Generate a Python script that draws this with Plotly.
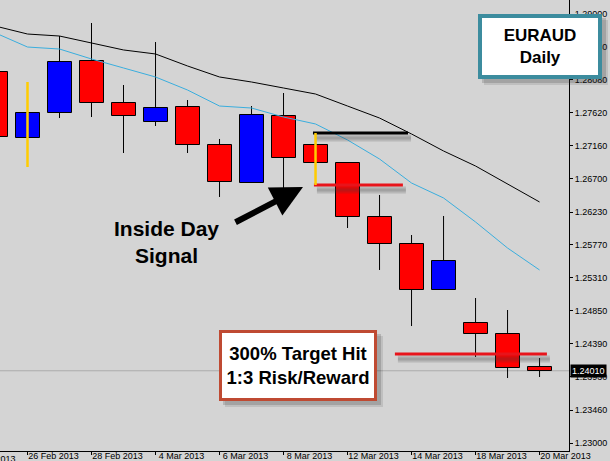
import plotly.graph_objects as go

# ---------------- data ----------------
dates = ["25 Feb 2013", "26 Feb 2013", "27 Feb 2013", "28 Feb 2013", "1 Mar 2013",
         "4 Mar 2013", "5 Mar 2013", "6 Mar 2013", "7 Mar 2013", "8 Mar 2013",
         "11 Mar 2013", "12 Mar 2013", "13 Mar 2013", "14 Mar 2013", "15 Mar 2013",
         "18 Mar 2013", "19 Mar 2013", "20 Mar 2013"]
open_ = [1.28189, 1.27266, 1.27615, 1.28343, 1.27755, 1.27490, 1.27699, 1.27168, 1.26636,
         1.27573, 1.27168, 1.26916, 1.26161, 1.25783, 1.25140, 1.24678, 1.24524, 1.24063]
high = [1.28357, 1.28049, 1.28692, 1.28874, 1.28007, 1.28608, 1.27797, 1.27252, 1.27713,
        1.27895, 1.27336, 1.26916, 1.26469, 1.25909, 1.26175, 1.25028, 1.24860, 1.24189]
low = [1.27238, 1.26860, 1.27545, 1.27559, 1.27056, 1.27434, 1.27056, 1.26441, 1.26636,
       1.26566, 1.26608, 1.26007, 1.25420, 1.24636, 1.25140, 1.24203, 1.23909, 1.23923]
close = [1.27280, 1.27615, 1.28329, 1.27755, 1.27573, 1.27685, 1.27168, 1.26650, 1.27587,
         1.26986, 1.26916, 1.26161, 1.25783, 1.25140, 1.25545, 1.24524, 1.24049, 1.24010]
ma_slow = [1.28846, 1.28720, 1.28692, 1.28594, 1.28497, 1.28441, 1.28273, 1.28119, 1.28049,
           1.27965, 1.27881, 1.27713, 1.27545, 1.27322, 1.27084, 1.26874, 1.26622, 1.26371]
ma_fast = [1.28762, 1.28538, 1.28510, 1.28371, 1.28245, 1.28119, 1.27937, 1.27713, 1.27685,
           1.27559, 1.27462, 1.27238, 1.26972, 1.26636, 1.26427, 1.26091, 1.25727, 1.25420]

x_tick_dates = ["22 Feb 2013", "26 Feb 2013", "28 Feb 2013", "4 Mar 2013", "6 Mar 2013",
                "8 Mar 2013", "12 Mar 2013", "14 Mar 2013", "18 Mar 2013", "20 Mar 2013"]
y_ticks = [1.29000, 1.28540, 1.28080, 1.27620, 1.27160, 1.26700, 1.26230,
           1.25770, 1.25310, 1.24850, 1.24390, 1.23930, 1.23460, 1.23000]
target_level = 1.24245

symbol_text = "EURAUD<br>Daily"
signal_text = "Inside Day<br>Signal"
result_text = "300% Target Hit<br>1:3 Risk/Reward"

# ---------------- layout constants ----------------
W, H = 610, 461
ML, MR, MT, MB = 0, 41, 0, 10
PW, PH = W - ML - MR, H - MT - MB
Y_RANGE = [1.228881, 1.291958]
X_RANGE = [0.1406, 17.92]
PX_Y = PH / (Y_RANGE[1] - Y_RANGE[0])
PX_X = PW / (X_RANGE[1] - X_RANGE[0])
BG = "#D4D4D4"
FONT_AX = "Liberation Sans, Arial, sans-serif"

n = len(dates)
idx = list(range(n))
bull = [c >= o for o, c in zip(open_, close)]

fig = go.Figure()

# wicks (split so they don't cross bodies)
wx, wy = [], []
for i in idx:
    top = max(open_[i], close[i])
    bot = min(open_[i], close[i])
    wx += [i, i, None, i, i, None]
    wy += [top, high[i], None, bot, low[i], None]
fig.add_trace(go.Scatter(x=wx, y=wy, mode="lines", line=dict(color="black", width=1),
                         hoverinfo="skip"))

# bodies
fig.add_trace(go.Bar(
    x=idx,
    y=[max(abs(c - o), 0.00002) for o, c in zip(open_, close)],
    base=[min(o, c) for o, c in zip(open_, close)],
    width=0.75,
    marker=dict(color=["#0000FF" if b else "#FF0000" for b in bull],
                line=dict(color="black", width=1)),
    hoverinfo="skip"))

# moving averages
fig.add_trace(go.Scatter(x=[-1 + 0.86] + idx[1:], y=ma_slow, mode="lines",
                         line=dict(color="black", width=1), hoverinfo="skip"))
fig.add_trace(go.Scatter(x=[-1 + 0.86] + idx[1:], y=ma_fast, mode="lines",
                         line=dict(color="#3AAEDE", width=1), hoverinfo="skip"))

# drawn lines with soft shadows
sig = 10  # inside day bar
lines = [
    (sig - 0.08, sig + 2.89, high[sig], "black"),
    (sig - 0.05, sig + 2.73, low[sig], "#E8141B"),
    (sig + 2.48, sig + 7.23, target_level, "#E8141B"),
]
dy = 5 / PX_Y
dx = 3 / PX_X
for x0, x1, lv, col in lines:
    fig.add_trace(go.Scatter(x=[x0 + dx, x1 + dx], y=[lv - dy, lv - dy], mode="lines",
                             line=dict(color="rgba(60,60,60,0.18)", width=7), hoverinfo="skip"))
    fig.add_trace(go.Scatter(x=[x0 + dx, x1 + dx], y=[lv - dy, lv - dy], mode="lines",
                             line=dict(color="rgba(60,60,60,0.18)", width=3), hoverinfo="skip"))
for x0, x1, lv, col in lines:
    fig.add_trace(go.Scatter(x=[x0, x1], y=[lv, lv], mode="lines",
                             line=dict(color=col, width=3), hoverinfo="skip"))

# yellow range markers
for i in (1, sig):
    fig.add_trace(go.Scatter(x=[i, i], y=[low[i], high[i]], mode="lines",
                             line=dict(color="#FFCC00", width=2.5), hoverinfo="skip"))

shapes = [
    dict(type="line", xref="paper", yref="y", x0=0, x1=1, y0=close[-1], y1=close[-1],
         line=dict(color="#ABABAB", width=1), layer="below"),
]


def px2paper(x, y):
    return (x - ML) / PW, 1 - (y - MT) / PH


# box shadows
for (x0, y0, x1, y1) in [(219, 330, 377, 401), (478, 14, 602, 79)]:
    for off, a in [(6, 0.12), (4, 0.18)]:
        a0 = px2paper(x0 + off, y0 + off)
        a1 = px2paper(x1 + off, y1 + off)
        shapes.append(dict(type="rect", xref="paper", yref="paper",
                           x0=a0[0], y0=a0[1], x1=a1[0], y1=a1[1],
                           line=dict(width=0), fillcolor=f"rgba(40,40,40,{a})", layer="above"))

annotations = []
cx, cy = px2paper(298, 365.5)
annotations.append(dict(xref="paper", yref="paper", x=cx, y=cy, xanchor="center",
                        yanchor="middle", text=f"<b>{result_text}</b>", showarrow=False,
                        font=dict(family="Liberation Sans, Arial", size=18.5, color="black"),
                        bgcolor="white", bordercolor="#BF4A32", borderwidth=3, borderpad=0,
                        width=152, height=65))
cx, cy = px2paper(540, 46.5)
annotations.append(dict(xref="paper", yref="paper", x=cx, y=cy, xanchor="center",
                        yanchor="middle", text=f"<b>{symbol_text}</b>", showarrow=False,
                        font=dict(family="Liberation Sans, Arial", size=17, color="black"),
                        bgcolor="white", bordercolor="#3C8C9E", borderwidth=4, borderpad=0,
                        width=116, height=57))
cx, cy = px2paper(166, 241.5)
annotations.append(dict(xref="paper", yref="paper", x=cx, y=cy, xanchor="center",
                        yanchor="middle", text=f"<b>{signal_text}</b>", showarrow=False,
                        font=dict(family="Liberation Sans, Arial", size=21, color="black")))
hx, hy = px2paper(303, 187)
annotations.append(dict(xref="paper", yref="paper", x=hx, y=hy, text="", showarrow=True,
                        ax=-69, ay=36, arrowhead=2, arrowwidth=6, arrowsize=1.05,
                        arrowcolor="black", standoff=0))
# current price tag
annotations.append(dict(xref="paper", yref="y", x=1, y=close[-1], xanchor="left",
                        yanchor="middle", xshift=1, text=f"{close[-1]:.5f}", showarrow=False,
                        bgcolor="black", font=dict(family=FONT_AX, size=9, color="white"),
                        borderpad=1))
# partially visible leftmost date label (tick two bars before 26 Feb, off the plot)
first_tick_x = (-1 - X_RANGE[0]) / (X_RANGE[1] - X_RANGE[0])
annotations.append(dict(xref="paper", yref="paper", x=first_tick_x, y=0, xanchor="left",
                        yanchor="top", xshift=0, yshift=-1, text=x_tick_dates[0],
                        showarrow=False, font=dict(family=FONT_AX, size=9, color="black")))

fig.update_layout(
    width=W, height=H,
    margin=dict(l=ML, r=MR, t=MT, b=MB, pad=0, autoexpand=False),
    paper_bgcolor=BG, plot_bgcolor=BG,
    showlegend=False,
    bargap=0,
    shapes=shapes,
    annotations=annotations,
    xaxis=dict(range=X_RANGE, tickmode="array", tickvals=[1, 3, 5, 7, 9, 11, 13, 15, 17],
               ticktext=x_tick_dates[1:], ticks="outside", ticklen=3, tickcolor="black",
               showline=True, linecolor="black", linewidth=1, showgrid=False, zeroline=False,
               tickfont=dict(family=FONT_AX, size=9, color="black"),
               ticklabelshift=26, ticklabelstandoff=-7, fixedrange=True, automargin=False),
    yaxis=dict(range=Y_RANGE, side="right", tickmode="array", tickvals=y_ticks,
               ticktext=[f"{v:.5f}" for v in y_ticks], ticks="outside", ticklen=3,
               tickcolor="black", showline=True, linecolor="black", linewidth=1,
               showgrid=False, zeroline=False, automargin=False,
               tickfont=dict(family=FONT_AX, size=9, color="black"), fixedrange=True),
)

fig.write_html("out.html", config={"displayModeBar": False},
               post_script="document.body.style.margin='0';document.body.style.overflow='hidden';")
